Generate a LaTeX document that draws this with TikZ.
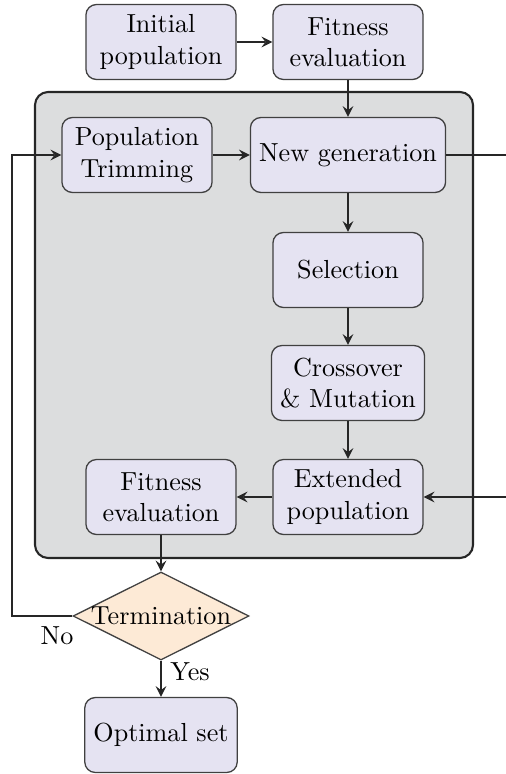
\documentclass[tikz,border=0pt]{standalone}
\usetikzlibrary{shapes.geometric}
\definecolor{boxfill}{RGB}{229,227,242}
\definecolor{panelfill}{RGB}{220,221,222}
\definecolor{decfill}{RGB}{253,234,214}
\begin{document}
\begin{tikzpicture}[x=0.383pt, y=-0.383pt, >=stealth,
    stage/.style={draw=black!75, line width=0.5pt, fill=boxfill, rounded corners=4pt,
        align=center, minimum width=57.5pt, minimum height=28.7pt},
    decision/.style={diamond, draw=black!75, line width=0.5pt, fill=decfill,
        aspect=2, inner sep=0pt},
    flow/.style={->, thick, black!85}]
    \useasboundingbox (0,0) rectangle (506,774);
    \filldraw[fill=panelfill, draw=black!85, thick, rounded corners=5pt]
        (35,92) rectangle (473,558);
    \node[stage] (init) at (161,42) {Initial\\population};
    \node[stage] (fitA) at (348,42) {Fitness\\evaluation};
    \node[stage] (trim) at (137,155) {Population\\Trimming};
    \node[stage] (newgen) at (348,155) {New generation};
    \node[stage] (sel) at (348,270) {Selection};
    \node[stage] (cross) at (348,383) {Crossover\\\& Mutation};
    \node[stage] (ext) at (348,497) {Extended\\population};
    \node[stage] (fitB) at (161,497) {Fitness\\evaluation};
    \node[decision] (term) at (161,616) {Termination};
    \node[stage] (opt) at (161,735) {Optimal set};
    \node (no) at (57,636) {No};
    \node (yes) at (190,672) {Yes};
    \coordinate (loop) at (12,616);
    \coordinate (outA) at (506,155);
    \coordinate (inB) at (506,497);
    \draw[flow] (init) -- (fitA);
    \draw[flow] (fitA) -- (newgen);
    \draw[flow] (trim) -- (newgen);
    \draw[flow] (newgen) -- (sel);
    \draw[flow] (sel) -- (cross);
    \draw[flow] (cross) -- (ext);
    \draw[flow] (ext) -- (fitB);
    \draw[flow] (fitB) -- (term);
    \draw[flow] (term) -- (opt);
    \draw[flow] (term.west) -- (loop) |- (trim.west);
    \draw[thick, black!85] (newgen.east) -- (outA);
    \draw[flow] (inB) -- (ext.east);
\end{tikzpicture}
\end{document}
